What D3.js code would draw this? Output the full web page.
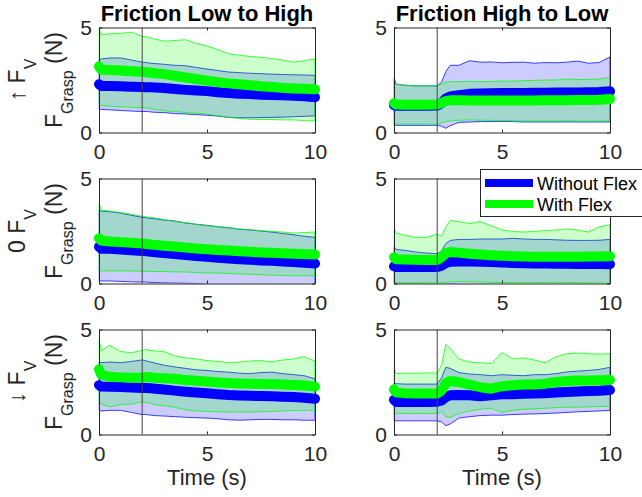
<!DOCTYPE html>
<html><head><meta charset="utf-8">
<script src="https://cdn.jsdelivr.net/npm/d3@7"></script>
<style>body{margin:0;background:#fff}svg{display:block}text{font-family:"Liberation Sans",Arial,Helvetica,sans-serif}</style>
</head><body><svg id="c" width="642" height="497"></svg>
<script>
// ---------------- data ----------------
const time = [0,0.1,0.5,1,1.5,2,2.2,2.4,2.6,3,3.5,4,4.5,5,5.5,6,6.5,7,7.5,8,8.5,9,9.5,10];
const colTitles = ["Friction Low to High","Friction High to Low"];
const rowArrows = ["\u2191","0","\u2193"];
const xTicks = [0,5,10];
const yTicks = [0,5];
const seriesNames = ["Without Flex","With Flex"];
const switchTime = 2;
const xLabel = "Time (s)";

// Row 1 (up F_V), Friction Low to High
const upLH_blueMean  = [2.3,2.22,2.22,2.2,2.18,2.17,2.16,2.15,2.14,2.12,2.07,2.03,2.0,1.97,1.92,1.88,1.85,1.83,1.8,1.79,1.77,1.75,1.72,1.68];
const upLH_blueLo    = [1.12,1.1,1.08,1.05,1.02,1.0,1.0,0.98,0.96,0.95,0.9,0.88,0.85,0.82,0.78,0.72,0.7,0.7,0.71,0.72,0.73,0.75,0.77,0.79];
const upLH_blueHi    = [3.45,3.5,3.55,3.55,3.45,3.35,3.33,3.3,3.28,3.25,3.2,3.18,3.1,3.02,2.95,2.88,2.85,2.82,2.8,2.78,2.76,2.75,2.74,2.72];
const upLH_greenMean = [3.15,3.0,2.98,2.95,2.92,2.89,2.87,2.85,2.82,2.78,2.7,2.62,2.55,2.47,2.4,2.34,2.3,2.25,2.2,2.17,2.13,2.1,2.08,2.06];
const upLH_greenLo   = [1.3,1.28,1.25,1.22,1.2,1.19,1.17,1.14,1.1,1.04,1.0,0.95,0.92,0.88,0.8,0.72,0.67,0.63,0.62,0.62,0.6,0.6,0.57,0.55];
const upLH_greenHi   = [4.95,4.65,4.7,4.72,4.78,4.58,4.55,4.5,4.45,4.35,4.38,4.42,4.25,4.12,3.95,3.75,3.68,3.62,3.58,3.52,3.45,3.35,3.42,3.5];

// Row 1 (up F_V), Friction High to Low
const upHL_blueMean  = [1.3,1.27,1.27,1.27,1.27,1.28,1.4,1.62,1.72,1.78,1.84,1.86,1.87,1.88,1.88,1.88,1.89,1.89,1.9,1.9,1.91,1.92,1.93,1.96];
const upHL_blueLo    = [0.35,0.34,0.34,0.34,0.34,0.34,0.3,0.2,0.32,0.48,0.5,0.52,0.52,0.53,0.52,0.5,0.5,0.5,0.5,0.5,0.5,0.5,0.5,0.5];
const upHL_blueHi    = [2.6,2.3,2.25,2.22,2.22,2.22,2.4,2.9,3.2,3.2,3.42,3.35,3.36,3.32,3.34,3.35,3.3,3.33,3.32,3.35,3.4,3.3,3.33,3.6];
const upHL_greenMean = [1.4,1.33,1.32,1.32,1.32,1.33,1.4,1.5,1.53,1.53,1.52,1.52,1.52,1.52,1.52,1.52,1.52,1.53,1.54,1.54,1.55,1.55,1.56,1.6];
const upHL_greenLo   = [0.42,0.4,0.4,0.4,0.4,0.4,0.45,0.52,0.55,0.58,0.6,0.58,0.58,0.57,0.56,0.55,0.55,0.55,0.55,0.56,0.55,0.54,0.55,0.55];
const upHL_greenHi   = [2.5,2.3,2.25,2.22,2.22,2.23,2.3,2.4,2.42,2.42,2.44,2.42,2.43,2.45,2.44,2.47,2.48,2.5,2.5,2.55,2.52,2.53,2.55,2.62];

// Row 2 (0 F_V), Friction Low to High
const zeroLH_blueMean  = [1.75,1.66,1.65,1.62,1.58,1.55,1.53,1.51,1.49,1.45,1.4,1.36,1.31,1.27,1.23,1.19,1.16,1.13,1.1,1.08,1.05,1.02,0.99,0.95];
const zeroLH_blueLo    = [0.12,0.12,0.12,0.1,0.08,0.07,0.07,0.05,0.04,0.03,0.02,0.01,0.0,-0.03,-0.06,-0.1,-0.12,-0.12,-0.15,-0.15,-0.15,-0.15,-0.18,-0.2];
const zeroLH_blueHi    = [3.5,3.45,3.42,3.35,3.25,3.15,3.13,3.1,3.08,3.02,2.98,2.88,2.82,2.77,2.7,2.65,2.58,2.55,2.5,2.45,2.38,2.32,2.25,2.2];
const zeroLH_greenMean = [2.15,2.05,2.0,1.97,1.94,1.9,1.88,1.86,1.84,1.8,1.76,1.71,1.67,1.63,1.6,1.57,1.54,1.51,1.48,1.46,1.44,1.42,1.4,1.38];
const zeroLH_greenLo   = [0.62,0.6,0.6,0.6,0.6,0.58,0.58,0.57,0.57,0.57,0.55,0.55,0.52,0.5,0.5,0.48,0.45,0.44,0.42,0.4,0.38,0.37,0.37,0.36];
const zeroLH_greenHi   = [3.85,3.5,3.45,3.38,3.3,3.2,3.17,3.15,3.12,3.05,2.95,2.9,2.82,2.75,2.72,2.66,2.6,2.56,2.52,2.48,2.45,2.4,2.43,2.45];

// Row 2 (0 F_V), Friction High to Low
const zeroHL_blueMean  = [0.82,0.79,0.78,0.78,0.78,0.78,0.85,0.98,1.03,1.05,1.05,1.04,1.02,1.0,0.98,0.96,0.95,0.95,0.94,0.94,0.93,0.93,0.93,0.92];
const zeroHL_blueLo    = [-0.02,-0.03,-0.03,-0.04,-0.04,-0.05,-0.05,-0.04,-0.03,-0.03,-0.05,-0.06,-0.08,-0.1,-0.1,-0.12,-0.12,-0.13,-0.13,-0.14,-0.14,-0.15,-0.15,-0.15];
const zeroHL_blueHi    = [1.75,1.62,1.58,1.5,1.45,1.42,1.55,1.9,2.05,2.1,2.1,2.12,2.12,2.12,2.15,2.12,2.1,2.1,2.08,2.06,2.05,2.05,2.06,2.1];
const zeroHL_greenMean = [1.25,1.15,1.14,1.13,1.12,1.12,1.25,1.45,1.5,1.47,1.42,1.38,1.35,1.32,1.3,1.28,1.27,1.27,1.27,1.27,1.27,1.28,1.28,1.3];
const zeroHL_greenLo   = [0.05,0.05,0.04,0.04,0.04,0.03,0.04,0.06,0.08,0.1,0.08,0.07,0.06,0.05,0.05,0.05,0.05,0.05,0.06,0.05,0.04,0.03,0.02,0.02];
const zeroHL_greenHi   = [2.65,2.4,2.3,2.2,2.2,2.35,2.25,2.7,3.0,2.95,2.85,2.95,2.75,2.55,2.48,2.45,2.48,2.52,2.55,2.6,2.55,2.45,2.7,2.8];

// Row 3 (down F_V), Friction Low to High
const downLH_blueMean  = [2.35,2.28,2.27,2.26,2.24,2.22,2.21,2.2,2.18,2.14,2.09,2.04,2.0,1.96,1.92,1.88,1.86,1.84,1.83,1.82,1.8,1.78,1.75,1.7];
const downLH_blueLo    = [1.15,1.12,1.15,1.15,1.05,0.95,0.95,0.92,0.9,0.88,0.85,0.82,0.8,0.78,0.75,0.7,0.68,0.7,0.72,0.72,0.7,0.7,0.68,0.68];
const downLH_blueHi    = [3.45,3.42,3.45,3.42,3.48,3.55,3.5,3.45,3.4,3.3,3.22,3.15,3.08,3.05,3.0,2.97,2.92,2.9,2.95,2.97,2.9,2.85,2.8,2.65];
const downLH_greenMean = [3.1,2.85,2.75,2.72,2.7,2.7,2.74,2.72,2.7,2.68,2.65,2.6,2.56,2.52,2.48,2.45,2.43,2.42,2.41,2.4,2.38,2.36,2.33,2.28];
const downLH_greenLo   = [1.6,1.45,1.32,1.42,1.45,1.55,1.52,1.48,1.42,1.38,1.3,1.18,1.12,1.1,1.08,1.07,1.08,1.07,1.08,1.1,1.12,1.14,1.15,1.15];
const downLH_greenHi   = [4.55,4.0,4.25,3.95,3.9,4.0,4.05,4.0,3.98,3.95,3.75,3.65,3.6,3.52,3.48,3.42,3.45,3.5,3.52,3.45,3.55,3.6,3.7,3.5];

// Row 3 (down F_V), Friction High to Low
const downHL_blueMean  = [1.65,1.55,1.55,1.55,1.55,1.56,1.62,1.78,1.87,1.88,1.87,1.82,1.87,1.92,1.92,1.94,1.95,1.97,2.0,2.02,2.05,2.07,2.08,2.12];
const downHL_blueLo    = [0.68,0.65,0.65,0.65,0.65,0.65,0.6,0.42,0.5,0.78,0.85,0.9,0.92,0.92,0.95,0.97,0.98,1.0,1.02,1.05,1.08,1.1,1.12,1.15];
const downHL_blueHi    = [2.45,2.42,2.4,2.4,2.4,2.4,2.7,3.2,3.15,2.95,2.88,2.85,2.8,2.85,2.82,2.8,2.85,2.85,2.9,2.98,3.02,3.05,3.1,3.2];
const downHL_greenMean = [2.15,2.0,1.97,1.95,1.95,1.95,2.1,2.45,2.55,2.5,2.38,2.25,2.18,2.3,2.35,2.38,2.38,2.42,2.5,2.55,2.57,2.57,2.58,2.6];
const downHL_greenLo   = [1.0,1.0,1.0,1.0,1.0,1.0,1.1,0.85,0.8,1.0,1.12,1.2,1.25,1.05,1.15,1.2,1.22,1.25,1.28,1.3,1.3,1.32,1.33,1.35];
const downHL_greenHi   = [3.2,2.9,2.92,2.92,2.93,2.93,3.3,4.3,4.1,3.6,3.45,3.42,3.38,3.9,3.6,3.65,3.55,3.42,3.7,3.85,3.88,3.85,3.82,3.85];

const panelData = [
  [ {blue:[upLH_blueMean,upLH_blueLo,upLH_blueHi], green:[upLH_greenMean,upLH_greenLo,upLH_greenHi]},
    {blue:[upHL_blueMean,upHL_blueLo,upHL_blueHi], green:[upHL_greenMean,upHL_greenLo,upHL_greenHi]} ],
  [ {blue:[zeroLH_blueMean,zeroLH_blueLo,zeroLH_blueHi], green:[zeroLH_greenMean,zeroLH_greenLo,zeroLH_greenHi]},
    {blue:[zeroHL_blueMean,zeroHL_blueLo,zeroHL_blueHi], green:[zeroHL_greenMean,zeroHL_greenLo,zeroHL_greenHi]} ],
  [ {blue:[downLH_blueMean,downLH_blueLo,downLH_blueHi], green:[downLH_greenMean,downLH_greenLo,downLH_greenHi]},
    {blue:[downHL_blueMean,downHL_blueLo,downHL_blueHi], green:[downHL_greenMean,downHL_greenLo,downHL_greenHi]} ]
];

// ---------------- layout ----------------
const colX = [99, 394];
const rowY = [27.5, 178.5, 329.5];
const W = 216, H = 105;
const BLUE = "#0000ff", GREEN = "#00ff00", AX = "#262626";
const svg = d3.select("#c");
svg.append("rect").attr("width",642).attr("height",497).attr("fill","#fff");

const x = d3.scaleLinear().domain([0,10]).range([0,W]);
const y = d3.scaleLinear().domain([0,5]).range([H,0]);
const idx = d3.range(time.length);

panelData.forEach((row, r) => {
  row.forEach((pd, c) => {
    const g = svg.append("g").attr("transform",`translate(${colX[c]},${rowY[r]})`);
    const cid = `clip${r}${c}`;
    g.append("clipPath").attr("id",cid).append("rect").attr("x",-0.5).attr("y",0).attr("width",W+1).attr("height",H);
    const pg = g.append("g").attr("clip-path",`url(#${cid})`);
    [[pd.blue,BLUE],[pd.green,GREEN]].forEach(([s,col]) => {
      const area = d3.area().x(i=>x(time[i])).y0(i=>y(s[1][i])).y1(i=>y(s[2][i]));
      pg.append("path").attr("d",area(idx)).attr("fill",col).attr("fill-opacity",0.2)
        .attr("stroke",col).attr("stroke-width",1).attr("stroke-opacity",0.75);
    });
    // axes
    const xa = g.append("g").attr("transform",`translate(0,${H})`)
      .call(d3.axisBottom(x).tickValues(xTicks).tickSizeInner(-3).tickSizeOuter(0).tickPadding(12).tickFormat(d3.format("d")));
    const xt = g.append("g").call(d3.axisTop(x).tickValues(xTicks).tickSizeInner(-3).tickSizeOuter(0).tickFormat(""));
    const ya = g.append("g").call(d3.axisLeft(y).tickValues(yTicks).tickSizeInner(-3).tickSizeOuter(0).tickPadding(7).tickFormat(d3.format("d")));
    const yr = g.append("g").attr("transform",`translate(${W},0)`).call(d3.axisRight(y).tickValues(yTicks).tickSizeInner(-3).tickSizeOuter(0).tickFormat(""));
    [xa,xt,ya,yr].forEach(a => {
      a.select(".domain").attr("stroke",AX);
      a.selectAll(".tick line").attr("stroke",AX);
      a.selectAll("text").attr("fill",AX).style("font-size","21px").style("font-family",'"Liberation Sans",Arial,sans-serif');
    });
    // mean lines
    [[pd.blue,BLUE],[pd.green,GREEN]].forEach(([s,col]) => {
      const line = d3.line().x(i=>x(time[i])).y(i=>y(s[0][i]));
      g.append("path").attr("d",line(idx)).attr("fill","none").attr("stroke",col)
        .attr("stroke-width",10).attr("stroke-linecap","round").attr("stroke-linejoin","round");
    });
    // switch time line
    g.append("line").attr("x1",x(switchTime)).attr("x2",x(switchTime)).attr("y1",0).attr("y2",H)
      .attr("stroke","#444").attr("stroke-width",1);

    if (r === 0) {
      g.append("text").attr("x",W/2).attr("y",-7).attr("text-anchor","middle")
        .style("font-size","22px").style("font-weight","bold").attr("fill","#000").text(colTitles[c]);
    }
    if (r === 2) {
      g.append("text").attr("x",W/2).attr("y",H+50).attr("text-anchor","middle")
        .style("font-size","22px").attr("fill",AX).text(xLabel);
    }
    if (c === 0) {
      const t1 = svg.append("text").attr("text-anchor","middle").attr("fill",AX)
        .attr("transform",`translate(25,${rowY[r]+H/2}) rotate(-90)`).style("font-size","23px");
      t1.append("tspan").text(rowArrows[r] + " F");
      t1.append("tspan").attr("dy",11).style("font-size","16px").text("V");
      const t2 = svg.append("text").attr("text-anchor","middle").attr("fill",AX)
        .attr("transform",`translate(62,${rowY[r]+H/2}) rotate(-90)`).style("font-size","23px");
      t2.append("tspan").text("F");
      t2.append("tspan").attr("dy",11).style("font-size","16px").text("Grasp");
      t2.append("tspan").attr("dy",-11).text(" (N)");
    }
  });
});

// legend
const lg = svg.append("g");
lg.append("rect").attr("x",480.5).attr("y",169.5).attr("width",170).attr("height",47)
  .attr("fill","#fff").attr("stroke","#262626").attr("stroke-width",1);
seriesNames.forEach((nm,i) => {
  const yy = 183 + i*21;
  lg.append("line").attr("x1",485).attr("x2",533).attr("y1",yy).attr("y2",yy)
    .attr("stroke",[BLUE,GREEN][i]).attr("stroke-width",8);
  lg.append("text").attr("x",537).attr("y",yy+7).style("font-size","18px").attr("fill","#000").text(nm);
});
</script></body></html>
